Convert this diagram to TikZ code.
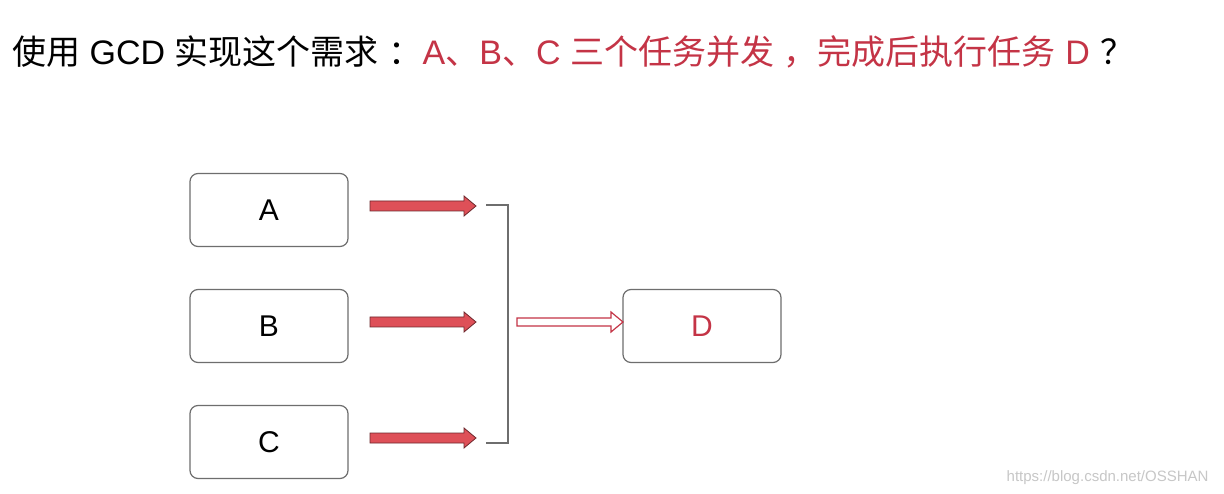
\documentclass[tikz,border=0pt]{standalone}
\usepackage{fontspec}
\setmainfont{Liberation Sans}
\newfontfamily\cjk{Noto Sans CJK SC}
\definecolor{tred}{RGB}{196,52,70}
\definecolor{afill}{RGB}{222,80,88}
\definecolor{aedge}{RGB}{110,40,45}
\definecolor{bord}{RGB}{110,110,110}
\newcommand{\cj}[1]{{\cjk #1}}
\begin{document}
\begin{tikzpicture}[x=1pt,y=-1pt,
  box/.style={draw=bord,line width=1.2pt,rounded corners=8pt,minimum width=158pt,minimum height=73pt,font=\fontsize{30}{30}\selectfont},
  farrow/.style={fill=afill,draw=aedge,line width=0.8pt},
  harrow/.style={fill=white,draw=tred,line width=1.2pt}]
\useasboundingbox (0,0) rectangle (1224,494);
\fill[white] (0,0) rectangle (1224,494);
\node[anchor=west,inner sep=0,font=\fontsize{34}{34}\selectfont] (title) at (12,52)
  {\cj{使用} GCD \cj{实现这个需求}\hspace{10pt}\cj{：}\textcolor{tred}{A\cj{、}B\cj{、}C \cj{三个任务并发}\hspace{10pt}\cj{，}\cj{完成后执行任务} D}\hspace{10pt}\cj{？}};
\node[box] (A) at (269,210) {A};
\node[box] (B) at (269,326) {B};
\node[box] (C) at (269,442) {C};
\node[box,text=tred] (D) at (702,326) {D};
\foreach \y in {206,322,438}{
  \draw[farrow] (370,\y-5) -- (464,\y-5) -- (464,\y-10) -- (476,\y) -- (464,\y+10) -- (464,\y+5) -- (370,\y+5) -- cycle;
}
\draw[bord,line width=1.2pt] (486,205) -- (508,205) -- (508,443) -- (486,443);
\draw[harrow] (517,318) -- (611,318) -- (611,312) -- (623,322) -- (611,332) -- (611,326) -- (517,326) -- cycle;
\node[anchor=east,text=black!22,font=\fontsize{15}{15}\selectfont] (wm) at (1212,478) {https://blog.csdn.net/OSSHAN};
\end{tikzpicture}
\end{document}
